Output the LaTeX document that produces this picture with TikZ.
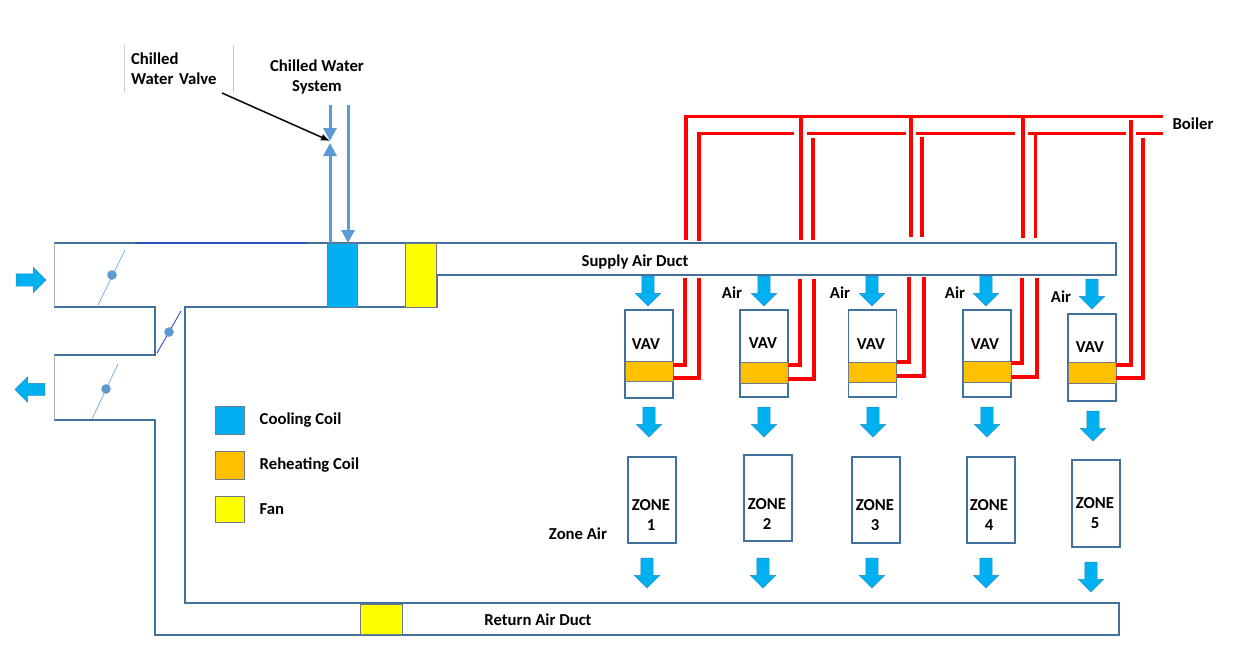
\documentclass[tikz,border=0pt]{standalone}
\usepackage{fontspec}
\setmainfont{Carlito}
\usepackage{xcolor}
\usetikzlibrary{arrows.meta,positioning,shapes.arrows}
\definecolor{ductblue}{HTML}{41719C}
\definecolor{pipeblue}{HTML}{5B9BD5}
\definecolor{coolcyan}{HTML}{00B0F0}
\definecolor{reheat}{HTML}{FFC000}
\definecolor{fanyellow}{HTML}{FFFF00}
\definecolor{hotred}{HTML}{FF0000}

\begin{document}
\begin{tikzpicture}[
    x=1pt, y=-1pt,
    duct/.style={
        draw=ductblue,
        line width=1.8pt
    },
    lbl/.style={
        font=\fontsize{16.7}{20}\selectfont\bfseries,
        align=center,
        inner sep=0pt
    },
    coil/.style={
        draw=gray!70!ductblue,
        line width=0.8pt,
        minimum width=48pt,
        inner sep=0pt,
        outer sep=0pt
    },
    box/.style={
        draw=ductblue,
        line width=1.8pt,
        fill=white,
        minimum width=48pt,
        inner sep=0pt,
        outer sep=0pt
    },
    airflow/.style={
        single arrow,
        fill=coolcyan,
        draw=ductblue!60!coolcyan,
        line width=0.4pt,
        inner xsep=0pt,
        inner ysep=6pt,
        minimum height=30pt,
        minimum width=25pt,
        single arrow head extend=6.5pt
    },
    down/.style={airflow, rotate=-90},
    hot/.style={draw=hotred, line width=3.8pt},
    chilled/.style={
        draw=pipeblue,
        line width=3pt,
        -{Triangle[length=13pt,width=13pt]}
    },
    damper/.style={draw=pipeblue!80, line width=0.8pt},
    pivot/.style={
        circle,
        fill=pipeblue,
        draw=ductblue!70,
        line width=0.5pt,
        minimum size=9pt,
        inner sep=0pt
    }
]
\useasboundingbox (0,0) rectangle (1243,669);

% ducts
\draw[duct] (54,243) -- (1116,243) -- (1116,275) -- (437,275) -- (437,307) -- (185,307)
    -- (185,603) -- (1119,603) -- (1119,635) -- (155,635) -- (155,420) -- (54,420);
\draw[duct] (54,307) -- (155,307) -- (155,355) -- (54,355);
\draw[gray!50!ductblue!60, line width=0.8pt] (54,243) -- (54,307);
\draw[gray!50!ductblue!60, line width=0.8pt] (54,355) -- (54,420);
\draw[draw=blue!30!ductblue, line width=1.6pt] (135,243) -- (308,243);

% dampers
\coordinate (d1a) at (98,305);
\coordinate (d1b) at (125,250);
\coordinate (d2a) at (157,353);
\coordinate (d2b) at (181,311);
\coordinate (d3a) at (92,419);
\coordinate (d3b) at (118,364);
\draw[damper] (d1a) -- (d1b);
\draw[damper, draw=blue!60!ductblue] (d2a) -- (d2b);
\draw[damper] (d3a) -- (d3b);
\node[pivot] (piv1) at (112,275) {};
\node[pivot] (piv2) at (169,332) {};
\node[pivot] (piv3) at (106,389) {};

% coils and fans
\node[coil, fill=coolcyan, minimum width=30pt, minimum height=64pt] (cool) at (342,275) {};
\node[coil, fill=fanyellow, minimum width=31pt, minimum height=64pt] (fan) at (420.5,275) {};
\node[coil, fill=fanyellow, minimum width=42pt, minimum height=30pt] (retfan) at (381,619) {};

% outside air arrows
\node[airflow] (airin) at (28,280) {};
\node[airflow, rotate=180] (airout) at (33,389.5) {};

% chilled water
\coordinate (cwa) at (330,105);
\coordinate (cwb) at (348,105);
\coordinate (valvedown) at (330,141);
\coordinate (valveup) at (330,143);
\coordinate (coolreturn) at (330,243);
\coordinate (coolsupply) at (348,243);
\draw[chilled] (cwa) -- (valvedown);
\draw[chilled] (coolreturn) -- (valveup);
\draw[chilled] (cwb) -- (coolsupply);

\node[lbl, align=left, anchor=north west, text width=95pt, minimum height=48pt, inner xsep=7pt, outer sep=0pt] (valvelbl) at (124,45) {Chilled\\Water Valve};
\draw[gray!40] (valvelbl.north west) -- (valvelbl.south west);
\draw[gray!40] (valvelbl.north east) -- (valvelbl.south east);
\node[lbl] (cwlbl) at (317,77) {Chilled Water\\System};
\draw[-{Latex[length=9pt,width=7pt]}, line width=1.5pt] ([xshift=-11pt]valvelbl.south east) -- (valvedown);

% vav boxes
\node[box, minimum height=88pt] (vav1) at (649,354) {};
\node[box, minimum height=87pt] (vav2) at (764,353.5) {};
\node[box, minimum height=87pt] (vav3) at (872.5,353.5) {};
\node[box, minimum height=87pt] (vav4) at (987,353.5) {};
\node[box, minimum height=87pt] (vav5) at (1092,357.5) {};

\node[coil, fill=reheat, minimum height=20pt] (coil1) at (649,371) {};
\node[coil, fill=reheat, minimum height=21pt] (coil2) at (764,372.5) {};
\node[coil, fill=reheat, minimum height=20pt] (coil3) at (872.5,372) {};
\node[coil, fill=reheat, minimum height=21pt] (coil4) at (987,371.5) {};
\node[coil, fill=reheat, minimum height=21pt] (coil5) at (1092,372.5) {};

\node[lbl] (vlbl1) at (646,344) {VAV};
\node[lbl] (vlbl2) at (763,343) {VAV};
\node[lbl] (vlbl3) at (871,344) {VAV};
\node[lbl] (vlbl4) at (985,344) {VAV};
\node[lbl] (vlbl5) at (1090,347) {VAV};

% zones
\node[box, minimum height=86pt] (zone1) at (652,500) {};
\node[box, minimum height=86pt] (zone2) at (768,498) {};
\node[box, minimum height=86pt] (zone3) at (876,500) {};
\node[box, minimum height=86pt] (zone4) at (991,500) {};
\node[box, minimum height=87pt] (zone5) at (1096,503.5) {};

\node[lbl] (zlbl1) at (651,515) {ZONE\\1};
\node[lbl] (zlbl2) at (767,514) {ZONE\\2};
\node[lbl] (zlbl3) at (875,515) {ZONE\\3};
\node[lbl] (zlbl4) at (989,515) {ZONE\\4};
\node[lbl] (zlbl5) at (1095,513) {ZONE\\5};

% air arrows
\node[down] (sup1) at (648,288) {};
\node[down] (sup2) at (764,288) {};
\node[down] (sup3) at (872,288) {};
\node[down] (sup4) at (986,288) {};
\node[down] (sup5) at (1092,291) {};

\node[down] (mid1) at (649,419) {};
\node[down] (mid2) at (764,419) {};
\node[down] (mid3) at (873,419) {};
\node[down] (mid4) at (987,419) {};
\node[down] (mid5) at (1093,423) {};

\node[down] (ret1) at (647,570) {};
\node[down] (ret2) at (763,570) {};
\node[down] (ret3) at (872,570) {};
\node[down] (ret4) at (986,570) {};
\node[down] (ret5) at (1091,574) {};

% boiler header
\coordinate (s1) at (686,116.5);
\coordinate (s2) at (801,116.5);
\coordinate (s3) at (911,116.5);
\coordinate (s4) at (1023,116.5);
\coordinate (s5) at (1131,120);
\coordinate (send) at (1163,116.5);
\coordinate (r1) at (699,133.5);
\coordinate (r2) at (813,138);
\coordinate (r3) at (922,137);
\coordinate (r4) at (1035.5,135);
\coordinate (r5) at (1143,138);
\coordinate (rend) at (1163,133.5);
\coordinate (g1) at (794,133.5);
\coordinate (g2) at (807,133.5);
\coordinate (g3) at (906,133.5);
\coordinate (g4) at (916,133.5);
\coordinate (g5) at (1015,133.5);
\coordinate (g6) at (1028,133.5);
\coordinate (g7) at (1126,133.5);
\coordinate (g8) at (1136,133.5);

\draw[hot] (s1 |- 0,240) |- (send);
\draw[hot] (r1 |- 0,241) |- (g1);
\draw[hot] (g2) -- (g3);
\draw[hot] (g4) -- (g5);
\draw[hot] (g6) -- (g7);
\draw[hot] (g8) -- (rend);

\draw[hot] (s2) -- (s2 |- 0,240);
\draw[hot] (r2) -- (r2 |- 0,240);
\draw[hot] (s3) -- (s3 |- 0,237);
\draw[hot] (r3) -- (r3 |- 0,237);
\draw[hot] (s4) -- (s4 |- 0,238);
\draw[hot] (r4) -- (r4 |- 0,238);

% branches to the reheating coils
\coordinate (a1) at (685,278);
\coordinate (b1) at (699,278);
\coordinate (a2) at (800,279);
\coordinate (b2) at (814,279);
\coordinate (a3) at (909,277);
\coordinate (b3) at (924,277);
\coordinate (a4) at (1022,278);
\coordinate (b4) at (1037,278);

\draw[hot] (a1) |- ([yshift=6pt]coil1.east);
\draw[hot] (b1) |- ([yshift=-7pt]coil1.east);
\draw[hot] (a2) |- ([yshift=7.5pt]coil2.east);
\draw[hot] (b2) |- ([yshift=-6.5pt]coil2.east);
\draw[hot] (a3) |- ([yshift=10pt]coil3.east);
\draw[hot] (b3) |- ([yshift=-4pt]coil3.east);
\draw[hot] (a4) |- ([yshift=8.5pt]coil4.east);
\draw[hot] (b4) |- ([yshift=-5.5pt]coil4.east);
\draw[hot] (s5) |- ([yshift=7.5pt]coil5.east);
\draw[hot] (r5) |- ([yshift=-5.5pt]coil5.east);

% legend
\node[coil, fill=coolcyan, minimum width=29pt, minimum height=28pt] (legcool) at (229.5,420) {};
\node[coil, fill=reheat, minimum width=29pt, minimum height=28pt] (legheat) at (229.5,465) {};
\node[coil, fill=fanyellow, minimum width=29pt, minimum height=26pt] (legfan) at (229.5,509) {};
\node[lbl, right=15.5pt of legcool] (legcoollbl) {Cooling Coil};
\node[lbl, right=15.5pt of legheat] (legheatlbl) {Reheating Coil};
\node[lbl, right=15.5pt of legfan] (legfanlbl) {Fan};

% labels
\node[lbl] (supplylbl) at (635,262) {Supply Air Duct};
\node[lbl] (returnlbl) at (538,620) {Return Air Duct};
\node[lbl] (boilerlbl) at (1193,124) {Boiler};
\node[lbl] (zoneair) at (578,534) {Zone Air};
\node[lbl] (airlbl2) at (732,293) {Air};
\node[lbl] (airlbl3) at (840,293) {Air};
\node[lbl] (airlbl4) at (955,293) {Air};
\node[lbl] (airlbl5) at (1061,297) {Air};

\end{tikzpicture}
\end{document}
